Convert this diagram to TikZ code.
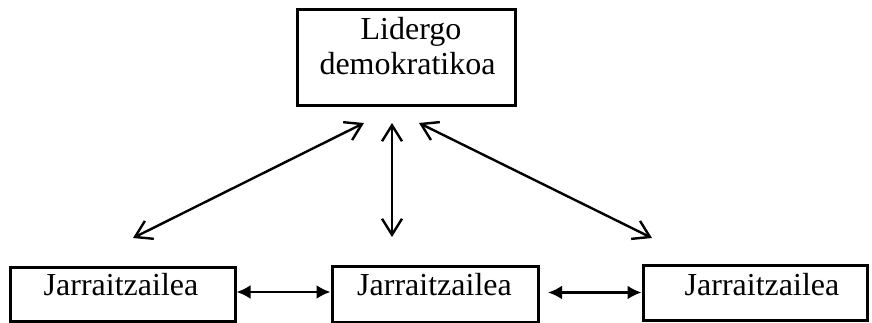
\documentclass[tikz,border=0pt]{standalone}
\usepackage{fontspec}
\setmainfont{Liberation Serif}
\usetikzlibrary{arrows.meta}
\begin{document}
\begin{tikzpicture}[x=1pt,y=-1pt,
  boxnode/.style={draw,line width=3pt,minimum width=#1,inner sep=0pt},
  lbl/.style={anchor=base,inner sep=0pt,font=\fontsize{32}{36}\selectfont},
  openarrow/.style={line width=2.4pt,{Straight Barb[length=16pt,width=20pt,line width=2.4pt]}-{Straight Barb[length=16pt,width=20pt,line width=2.4pt]}},
  fillarrow/.style={line width=2.6pt,{Latex[length=14pt,width=14pt]}-{Latex[length=14pt,width=14pt]}}]
\useasboundingbox (0,0) rectangle (872,323);
\node[boxnode=218pt,minimum height=96pt] (top) at (406,58) {};
\node[boxnode=225pt,minimum height=54pt] (f1) at (122.5,294) {};
\node[boxnode=206pt,minimum height=56pt] (f2) at (435,294) {};
\node[boxnode=224pt,minimum height=55pt] (f3) at (755,292.5) {};
\node[lbl] (t1) at (411,40) {Lidergo};
\node[lbl] (t2) at (407.5,75) {demokratikoa};
\node[lbl] (j1) at (121,295) {Jarraitzailea};
\node[lbl] (j2) at (434.5,295) {Jarraitzailea};
\node[lbl] (j3) at (762,295) {Jarraitzailea};
\coordinate (la1) at (133,238);
\coordinate (la2) at (364,123);
\coordinate (v1) at (392,123);
\coordinate (v2) at (392,237);
\coordinate (ra1) at (419,123);
\coordinate (ra2) at (652,238);
\coordinate (h2s) at (548,292.5);
\draw[openarrow] (la1) -- (la2);
\draw[openarrow] (v1) -- (v2);
\draw[openarrow] (ra1) -- (ra2);
\draw[fillarrow] (f1.east |- 0,292) -- (f2.west |- 0,292);
\draw[fillarrow] (h2s) -- (f3.west);
\end{tikzpicture}
\end{document}
